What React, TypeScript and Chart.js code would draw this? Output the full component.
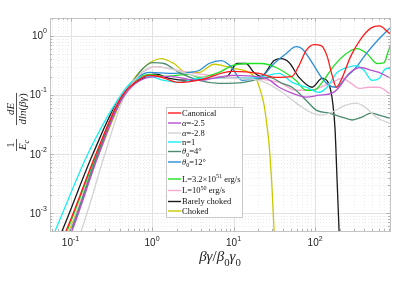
import React, { useEffect, useRef } from 'react';
import { Chart, registerables } from 'chart.js';
Chart.register(...registerables);

const LABELS = ['Canonical', 'α=-2.5', 'α=-2.8', 'n=1', 'θ0=4°', 'θ0=12°', 'L=3.2×10^51 erg/s', 'L=10^50 erg/s', 'Barely choked', 'Choked'];
const COLORS = ['#ff1a1a', '#b850d0', '#d2d2d2', '#18eef2', '#4d8c6e', '#2b8fd6', '#22e022', '#f7a8d0', '#1a1a1a', '#c9c900'];

const X_TICKS = [0.1, 1, 10, 100];
const X_TICK_EXP = ['-1', '0', '1', '2'];
const Y_TICKS = [0.001, 0.01, 0.1, 1];
const Y_TICK_EXP = ['-3', '-2', '-1', '0'];
const X_MIN = 0.056, X_MAX = 830, Y_MIN = 5e-4, Y_MAX = 2;

const canonicalX = [0.080, 0.088, 0.206, 0.405, 0.60, 0.92, 1.22, 2.14, 3.77, 9.6, 20.6, 33, 52, 63.6, 77.5, 97, 119, 141, 162, 182, 208, 276, 365, 489, 610, 809, 900];
const canonicalY = [3.8e-4, 5.0e-4, 0.0102, 0.085, 0.157, 0.214, 0.205, 0.163, 0.178, 0.25, 0.231, 0.198, 0.206, 0.314, 0.56, 0.71, 0.68, 0.445, 0.214, 0.135, 0.176, 0.462, 0.89, 1.36, 1.47, 1.12, 1.0];

const alpha25X = [0.095, 0.104, 0.224, 0.428, 0.919, 1.62, 3.77, 9.59, 25.1, 36.2, 52.2, 77.6, 112, 162, 197, 261, 367, 489, 610, 809, 900];
const alpha25Y = [3.8e-4, 5e-4, 0.0102, 0.0847, 0.198, 0.206, 0.176, 0.214, 0.19, 0.135, 0.107, 0.0915, 0.0989, 0.107, 0.135, 0.231, 0.291, 0.259, 0.24, 0.198, 0.185];

const alpha28X = [0.124, 0.135, 0.265, 0.441, 0.7, 1.06, 1.62, 3.77, 8.81, 20.6, 36.2, 63.6, 92, 122, 162, 240, 318, 422, 560, 743, 900];
const alpha28Y = [3.8e-4, 5e-4, 0.0102, 0.0847, 0.22, 0.302, 0.28, 0.206, 0.19, 0.176, 0.12, 0.0672, 0.0494, 0.0457, 0.0513, 0.0672, 0.0726, 0.0603, 0.0423, 0.0349, 0.032];

const n1X = [0.0576, 0.0645, 0.164, 0.383, 0.553, 0.919, 1.40, 2.14, 3.77, 8.81, 20.6, 36.2, 52.2, 77.6, 112, 140, 186, 247, 318, 399, 500, 610, 743, 900];
const n1Y = [3.55e-4, 5.0e-4, 0.0102, 0.0847, 0.163, 0.206, 0.176, 0.163, 0.19, 0.19, 0.198, 0.231, 0.163, 0.135, 0.111, 0.135, 0.24, 0.291, 0.314, 0.259, 0.176, 0.19, 0.28, 0.28];

const theta4X = [0.092, 0.101, 0.217, 0.40, 0.568, 0.754, 1.0, 1.40, 2.14, 3.77, 6.64, 13.4, 27.3, 39.4, 52.2, 77.6, 103, 148, 214, 284, 377, 486, 610, 809, 900];
const theta4Y = [3.8e-4, 5e-4, 0.0102, 0.08, 0.16, 0.27, 0.353, 0.34, 0.24, 0.176, 0.157, 0.163, 0.198, 0.157, 0.135, 0.0815, 0.0554, 0.0494, 0.0423, 0.0377, 0.0423, 0.0494, 0.0457, 0.0407, 0.039];

const theta12X = [0.092, 0.101, 0.217, 0.416, 0.92, 1.62, 2.84, 3.77, 5.0, 7.03, 9.31, 12.7, 16.4, 21.8, 31.4, 44.1, 58.4, 69.2, 91.9, 122, 148, 182, 240, 318, 434, 610, 809, 900];
const theta12Y = [3.8e-4, 5e-4, 0.0102, 0.0847, 0.24, 0.231, 0.24, 0.259, 0.34, 0.381, 0.302, 0.176, 0.183, 0.198, 0.34, 0.499, 0.654, 0.606, 0.353, 0.19, 0.145, 0.135, 0.198, 0.291, 0.519, 0.891, 1.31, 1.5];

const l51X = [0.083, 0.0906, 0.211, 0.416, 0.919, 1.40, 2.84, 3.77, 6.64, 9.59, 15.5, 21.8, 33.2, 58.4, 77.6, 97.2, 122, 171, 240, 327, 434, 576, 703, 809, 900];
const l51Y = [3.8e-4, 5e-4, 0.0102, 0.0847, 0.222, 0.206, 0.222, 0.198, 0.24, 0.314, 0.34, 0.34, 0.291, 0.176, 0.12, 0.12, 0.163, 0.314, 0.499, 0.606, 0.499, 0.34, 0.353, 0.606, 0.8];

const l50X = [0.090, 0.0986, 0.211, 0.394, 0.7, 1.12, 1.62, 2.84, 6.64, 15.5, 36.2, 58.4, 84, 162, 214, 277, 347, 460, 610, 809, 900];
const l50Y = [3.8e-4, 5e-4, 0.0102, 0.0847, 0.22, 0.302, 0.28, 0.24, 0.206, 0.19, 0.163, 0.12, 0.12, 0.163, 0.19, 0.157, 0.129, 0.135, 0.135, 0.107, 0.1];

const barelyX = [0.072, 0.0787, 0.189, 0.394, 0.919, 1.12, 1.62, 2.84, 5.0, 8.32, 11.0, 14.2, 17.8, 21.8, 31.4, 38.3, 48, 63.6, 91.9, 122, 148, 166, 176, 186, 197, 203];
const barelyY = [3.8e-4, 5e-4, 0.0102, 0.0847, 0.214, 0.225, 0.19, 0.176, 0.19, 0.206, 0.34, 0.34, 0.24, 0.206, 0.381, 0.412, 0.353, 0.198, 0.135, 0.19, 0.151, 0.0672, 0.0256, 0.00373, 5e-4, 1.7e-4];

const chokedX = [0.087, 0.0959, 0.224, 0.428, 0.692, 1.29, 1.86, 2.61, 3.77, 5.77, 7.6, 10.1, 15.5, 19.4, 21.8, 23.7, 25.8, 27.3, 29.7, 31.4, 32.3];
const chokedY = [3.8e-4, 5e-4, 0.0102, 0.0847, 0.24, 0.412, 0.34, 0.24, 0.24, 0.33, 0.31, 0.28, 0.24, 0.176, 0.107, 0.0672, 0.0288, 0.0144, 0.00253, 5e-4, 1.7e-4];

const SERIES_X = [canonicalX, alpha25X, alpha28X, n1X, theta4X, theta12X, l51X, l50X, barelyX, chokedX];
const SERIES_Y = [canonicalY, alpha25Y, alpha28Y, n1Y, theta4Y, theta12Y, l51Y, l50Y, barelyY, chokedY];

type Seg = { t: string; i?: boolean; sup?: boolean; sub?: boolean };
const LEGEND_TEXT: Seg[][] = [
  [{ t: 'Canonical' }],
  [{ t: 'α', i: true }, { t: '=-2.5' }],
  [{ t: 'α', i: true }, { t: '=-2.8' }],
  [{ t: 'n=1' }],
  [{ t: 'θ', i: true }, { t: '0', sub: true }, { t: '=4°' }],
  [{ t: 'θ', i: true }, { t: '0', sub: true }, { t: '=12°' }],
  [{ t: 'L=3.2×10' }, { t: '51', sup: true }, { t: ' erg/s' }],
  [{ t: 'L=10' }, { t: '50', sup: true }, { t: ' erg/s' }],
  [{ t: 'Barely choked' }],
  [{ t: 'Choked' }],
];
const LEGEND_ROWS = [113, 123, 133, 142, 151.5, 162, 179, 190.5, 201.5, 211];

const SERIF = '"Liberation Serif", "Times New Roman", serif';
const SANS = '"Liberation Sans", Arial, Helvetica, sans-serif';

function drawRich(ctx: CanvasRenderingContext2D, segs: Seg[], x: number, y: number, size: number, measureOnly = false) {
  let cx = x;
  for (const s of segs) {
    const fs = s.sup || s.sub ? size * 0.72 : size;
    ctx.font = `${s.i ? 'italic ' : ''}${fs}px ${SERIF}`;
    const dy = s.sup ? -size * 0.42 : s.sub ? size * 0.3 : 0;
    if (!measureOnly) ctx.fillText(s.t, cx, y + dy);
    cx += ctx.measureText(s.t).width;
  }
  return cx - x;
}

const decoPlugin = {
  id: 'deco',
  beforeDatasetsDraw(chart: any) {
    const { ctx, chartArea: a, scales } = chart;
    const xs = scales.x, ys = scales.y;
    ctx.save();
    ctx.lineWidth = 1;
    // minor grid
    ctx.strokeStyle = '#ececec';
    ctx.setLineDash([1, 2]);
    for (let d = -2; d <= 2; d++) {
      for (let k = 2; k <= 9; k++) {
        const v = k * Math.pow(10, d);
        if (v <= X_MIN || v >= X_MAX) continue;
        const p = Math.round(xs.getPixelForValue(v)) + 0.5;
        ctx.beginPath(); ctx.moveTo(p, a.top); ctx.lineTo(p, a.bottom); ctx.stroke();
      }
    }
    for (let d = -4; d <= 0; d++) {
      for (let k = 2; k <= 9; k++) {
        const v = k * Math.pow(10, d);
        if (v <= Y_MIN || v >= Y_MAX) continue;
        const p = Math.round(ys.getPixelForValue(v)) + 0.5;
        ctx.beginPath(); ctx.moveTo(a.left, p); ctx.lineTo(a.right, p); ctx.stroke();
      }
    }
    ctx.setLineDash([]);
    ctx.strokeStyle = '#e2e2e2';
    for (const v of X_TICKS) {
      const p = Math.round(xs.getPixelForValue(v)) + 0.5;
      ctx.beginPath(); ctx.moveTo(p, a.top); ctx.lineTo(p, a.bottom); ctx.stroke();
    }
    for (const v of Y_TICKS) {
      const p = Math.round(ys.getPixelForValue(v)) + 0.5;
      ctx.beginPath(); ctx.moveTo(a.left, p); ctx.lineTo(a.right, p); ctx.stroke();
    }
    ctx.restore();
  },
  afterDatasetsDraw(chart: any) {
    const { ctx, chartArea: a, scales } = chart;
    const xs = scales.x, ys = scales.y;
    ctx.save();
    // box
    ctx.strokeStyle = '#c4c4c4';
    ctx.lineWidth = 1;
    ctx.strokeRect(Math.round(a.left) + 0.5, Math.round(a.top) + 0.5, Math.round(a.right - a.left), Math.round(a.bottom - a.top));
    // tick marks
    ctx.strokeStyle = '#b0b0b0';
    for (let d = -2; d <= 2; d++) {
      for (let k = 1; k <= 9; k++) {
        const v = k * Math.pow(10, d);
        if (v <= X_MIN || v >= X_MAX) continue;
        const len = k === 1 ? 3.5 : 2;
        const p = Math.round(xs.getPixelForValue(v)) + 0.5;
        ctx.beginPath(); ctx.moveTo(p, a.bottom); ctx.lineTo(p, a.bottom - len); ctx.stroke();
        ctx.beginPath(); ctx.moveTo(p, a.top); ctx.lineTo(p, a.top + len); ctx.stroke();
      }
    }
    for (let d = -4; d <= 0; d++) {
      for (let k = 1; k <= 9; k++) {
        const v = k * Math.pow(10, d);
        if (v <= Y_MIN || v >= Y_MAX) continue;
        const len = k === 1 ? 3.5 : 2;
        const p = Math.round(ys.getPixelForValue(v)) + 0.5;
        ctx.beginPath(); ctx.moveTo(a.left, p); ctx.lineTo(a.left + len, p); ctx.stroke();
        ctx.beginPath(); ctx.moveTo(a.right, p); ctx.lineTo(a.right - len, p); ctx.stroke();
      }
    }
    // tick labels
    ctx.fillStyle = '#262626';
    ctx.textBaseline = 'alphabetic';
    ctx.textAlign = 'left';
    X_TICKS.forEach((v, i) => {
      const p = xs.getPixelForValue(v);
      ctx.font = `10px ${SANS}`;
      const w1 = ctx.measureText('10').width;
      ctx.font = `7px ${SANS}`;
      const w2 = ctx.measureText(X_TICK_EXP[i]).width;
      const x0 = p - (w1 + w2) / 2;
      ctx.font = `10px ${SANS}`;
      ctx.fillText('10', x0, a.bottom + 14.5);
      ctx.font = `7px ${SANS}`;
      ctx.fillText(X_TICK_EXP[i], x0 + w1, a.bottom + 9.5);
    });
    Y_TICKS.forEach((v, i) => {
      const p = ys.getPixelForValue(v);
      ctx.font = `10px ${SANS}`;
      const w1 = ctx.measureText('10').width;
      ctx.font = `7px ${SANS}`;
      const w2 = ctx.measureText(Y_TICK_EXP[i]).width;
      const x0 = a.left - 3 - w1 - w2;
      ctx.font = `10px ${SANS}`;
      ctx.fillText('10', x0, p + 3.5);
      ctx.font = `7px ${SANS}`;
      ctx.fillText(Y_TICK_EXP[i], x0 + w1, p - 2.5);
    });
    // x axis label
    ctx.fillStyle = '#262626';
    const xl: Seg[] = [{ t: 'βγ', i: true }, { t: '/' }, { t: 'β', i: true }, { t: '0', sub: true }, { t: 'γ', i: true }, { t: '0', sub: true }];
    const xw = drawRich(ctx, xl, 0, 0, 15, true);
    drawRich(ctx, xl, (a.left + a.right) / 2 - xw / 2, 261, 15);
    // y axis label (rotated fractions)
    ctx.save();
    ctx.translate(16.5, 124);
    ctx.rotate(-Math.PI / 2);
    ctx.lineWidth = 0.8;
    ctx.strokeStyle = '#262626';
    // fraction 1: 1 / E_c
    ctx.textAlign = 'center';
    ctx.font = `11px ${SERIF}`;
    ctx.fillText('1', -21, -2.5);
    ctx.beginPath(); ctx.moveTo(-27, 0); ctx.lineTo(-15, 0); ctx.stroke();
    ctx.textAlign = 'left';
    const ec: Seg[] = [{ t: 'E', i: true }, { t: 'c', i: true, sub: true }];
    const ecw = drawRich(ctx, ec, 0, 0, 11, true);
    drawRich(ctx, ec, -21 - ecw / 2, 9.5, 11);
    // fraction 2: dE / dln(βγ)
    const de: Seg[] = [{ t: 'dE', i: true }];
    const dew = drawRich(ctx, de, 0, 0, 11, true);
    drawRich(ctx, de, 15 - dew / 2, -2.5, 11);
    const dl: Seg[] = [{ t: 'dln', i: true }, { t: '(' }, { t: 'βγ', i: true }, { t: ')' }];
    const dlw = drawRich(ctx, dl, 0, 0, 11, true);
    drawRich(ctx, dl, 15 - dlw / 2, 9.5, 11);
    ctx.beginPath(); ctx.moveTo(15 - dlw / 2 - 0.5, 0); ctx.lineTo(15 + dlw / 2 + 0.5, 0); ctx.stroke();
    ctx.restore();
    // legend
    const lx = 166.5, ly = 107.5, lw = 76, lh = 110;
    ctx.fillStyle = '#ffffff';
    ctx.fillRect(lx, ly, lw, lh);
    ctx.strokeStyle = '#c8c8c8';
    ctx.lineWidth = 1;
    ctx.strokeRect(lx, ly, lw, lh);
    chart.data.datasets.forEach((ds: any, i: number) => {
      const cy = LEGEND_ROWS[i];
      ctx.strokeStyle = ds.borderColor;
      ctx.lineWidth = 1.4;
      ctx.beginPath(); ctx.moveTo(168, cy); ctx.lineTo(181, cy); ctx.stroke();
      ctx.fillStyle = '#111111';
      ctx.textAlign = 'left';
      drawRich(ctx, LEGEND_TEXT[i], 182, cy + 2.8, 8.5);
    });
    ctx.restore();
  },
};

export default function App() {
  const ref = useRef<HTMLCanvasElement | null>(null);
  useEffect(() => {
    if (!ref.current) return;
    const datasets = LABELS.map((label, i) => ({
      label,
      data: SERIES_X[i].map((x, j) => ({ x, y: SERIES_Y[i][j] })),
      borderColor: COLORS[i],
      backgroundColor: COLORS[i],
      borderWidth: 1.3,
      pointRadius: 0,
      fill: false,
      cubicInterpolationMode: 'monotone' as const,
    }));
    const chart = new Chart(ref.current, {
      type: 'line',
      data: { datasets },
      options: {
        animation: false,
        responsive: false,
        events: [],
        layout: { padding: { left: 50, top: 18, right: 9, bottom: 51 } },
        plugins: { legend: { display: false }, tooltip: { enabled: false } },
        scales: {
          x: { type: 'logarithmic', min: X_MIN, max: X_MAX, display: false },
          y: { type: 'logarithmic', min: Y_MIN, max: Y_MAX, display: false },
        },
      },
      plugins: [decoPlugin],
    });
    return () => chart.destroy();
  }, []);
  return (
    <div style={{ position: 'fixed', left: 0, top: 0, width: 399, height: 282, background: '#ffffff' }}>
      <canvas ref={ref} width={399} height={282} style={{ width: 399, height: 282 }} />
    </div>
  );
}
